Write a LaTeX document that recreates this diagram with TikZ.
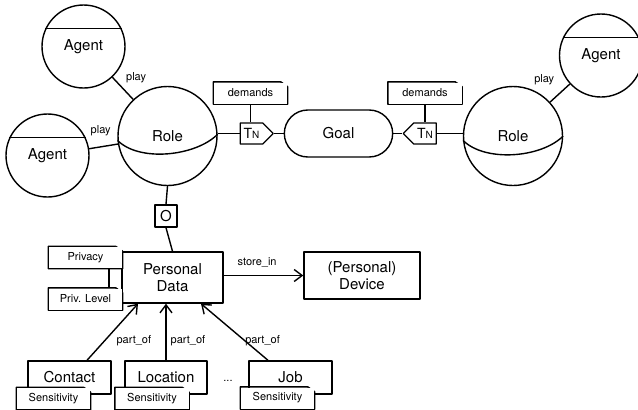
\documentclass[tikz,border=0pt]{standalone}
\usepackage{fontspec}
\setmainfont{TeX Gyre Heros}
\usetikzlibrary{arrows.meta,positioning,shapes.misc,shapes.symbols}

\begin{document}
\begin{tikzpicture}[
  x=1pt, y=-1pt, line width=1.4pt, line join=round,
  agent/.style={draw, circle, minimum size=83pt, inner sep=0pt,
    font=\fontsize{15}{17}\selectfont},
  role/.style={draw, circle, minimum size=99pt, inner sep=0pt,
    font=\fontsize{15}{17}\selectfont},
  goal/.style={draw, rounded rectangle, minimum width=115pt, minimum height=47pt,
    font=\fontsize{15}{17}\selectfont},
  box/.style={draw, fill=white, align=center, inner sep=1pt,
    font=\fontsize{15}{17}\selectfont},
  tn/.style={draw, fill=white, signal, signal pointer angle=90,
    minimum height=21pt, minimum width=33pt, inner sep=1pt,
    font=\fontsize{14}{15}\selectfont},
  note/.style={fill=white, minimum width=73pt, minimum height=21pt, inner sep=1pt,
    font=\fontsize{11}{12}\selectfont,
    append after command={\pgfextra{
      \draw (\tikzlastnode.south west) -- (\tikzlastnode.north west)
        -- ([xshift=-7pt]\tikzlastnode.north east)
        -- ([yshift=-5pt]\tikzlastnode.north east)
        -- (\tikzlastnode.south east) -- cycle;
      \filldraw[fill=gray!35, line width=0.6pt] ([xshift=-7pt]\tikzlastnode.north east)
        -- ([xshift=-6pt, yshift=-5pt]\tikzlastnode.north east)
        -- ([yshift=-5pt]\tikzlastnode.north east) -- cycle;}}},
  lbl/.style={font=\fontsize{11}{12}\selectfont, inner sep=1pt},
  arr/.style={-{Straight Barb[length=8pt, width=12pt]}}
]
\useasboundingbox (0,0) rectangle (638,410);
%% ─── Agents and roles ───────────────────────────────────────────────────────
\node[agent] (agentT) at (83.5,46.5)  {Agent};
\node[agent] (agentL) at (47.5,155.5) {Agent};
\node[agent] (agentR) at (601,55.5)   {Agent};
\node[role]  (roleL)  at (167.5,136)  {Role};
\node[role]  (roleR)  at (513,136)    {Role};
\draw (agentT.155) -- (agentT.25);
\draw (agentL.155) -- (agentL.25);
\draw (agentR.155) -- (agentR.25);
\draw (roleL.185) .. controls +(22,22) and +(-22,22) .. (roleL.2);
\draw (roleR.185) .. controls +(22,22) and +(-22,22) .. (roleR.0);
%% ─── Goal with its two demands ──────────────────────────────────────────────
\node[goal] (goal) at (338.5,133.5) {Goal};
\node[tn, signal to=east] (tnL) at (251.5,133.5) {T{\fontsize{10}{10}\selectfont N}};
\node[tn, signal to=west] (tnR) at (425,133.5)   {T{\fontsize{10}{10}\selectfont N}};
\node[note] (demL) at (250.5,93) {demands};
\node[note] (demR) at (425,93)   {demands};
%% ─── Personal data ──────────────────────────────────────────────────────────
\node[box, minimum size=22pt, inner sep=0pt] (own) at (166,216) {O};
\node[box, minimum width=101pt, minimum height=51pt] (pd) at (172.5,277.5) {Personal\\Data};
\node[box, minimum width=116pt, minimum height=47pt] (dev) at (362,275.5) {(Personal)\\Device};
\node[note] (priv)  at (85.5,257.5) {Privacy};
\node[note] (plvl)  at (85.5,299)   {Priv. Level};
%% ─── Data parts ─────────────────────────────────────────────────────────────
\node[box, minimum width=83pt, minimum height=33pt] (contact) at (69.5,377.5)  {Contact};
\node[box, minimum width=82pt, minimum height=33pt] (loc)     at (166,377.5)   {Location};
\node[box, minimum width=83pt, minimum height=33pt] (job)     at (290.5,377.5) {Job};
\node[note] (sensC) at (53.5,398.5) {Sensitivity};
\node[note] (sensL) at (152,398.5)  {Sensitivity};
\node[note] (sensJ) at (277.5,398)  {Sensitivity};
\node[lbl] (dots) at (228,381) {...};
%% ─── Connectors ─────────────────────────────────────────────────────────────
\draw (agentT) -- node[lbl, pos=0.1, anchor=west, xshift=10pt, yshift=2pt]{play} (roleL);
\draw (agentL) -- node[lbl, pos=0.4, above=9pt]{play} (roleL);
\draw (agentR) -- node[lbl, pos=0.1, anchor=east, xshift=-12pt, yshift=6pt]{play} (roleR);
\draw (roleL.east |- tnL.west) -- (tnL.west);
\draw (tnL.east) -- (goal.west);
\draw (goal.east) -- (tnR.west);
\draw (tnR.east) -- (roleR.west |- tnR.east);
\draw (demL.south) -- (demL.south |- tnL.north);
\draw (demR.south) -- (demR.south |- tnR.north);
\draw (roleL.south) -- (own.north);
\draw (own.south) -- (pd.north);
\draw ([xshift=23.5pt]priv.south) -- ([xshift=23.5pt]plvl.north);
\draw[arr] (pd.east |- dev.west) -- node[lbl, pos=0.42, above=6pt]{store\_in} (dev.west);
\draw[arr] ([xshift=17.5pt]contact.north) -- node[lbl, pos=0.35, right=10pt]{part\_of} ([xshift=-34.5pt]pd.south);
\draw[arr] (loc.north) -- node[lbl, pos=0.35, right=3pt]{part\_of} (loc.north |- pd.south);
\draw[arr] ([xshift=-22.5pt]job.north) -- node[lbl, pos=0.35, right=-1pt]{part\_of} ([xshift=28.5pt]pd.south);
\end{tikzpicture}
\end{document}
